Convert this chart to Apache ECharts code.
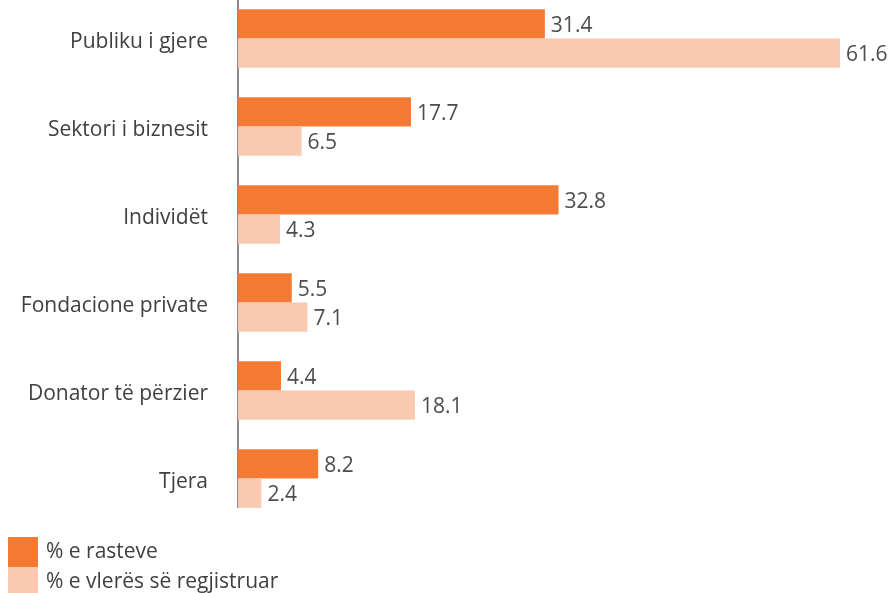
<!DOCTYPE html>
<html><head><meta charset="utf-8">
<script src="https://cdn.jsdelivr.net/npm/echarts@6/dist/echarts.min.js"></script>
<style>html,body{margin:0;padding:0;background:#fff}#c{width:892px;height:593px}</style>
</head><body><div id="c"></div>
<script>
const categories = ["Publiku i gjere", "Sektori i biznesit", "Individët", "Fondacione private", "Donator të përzier", "Tjera"];
const rasteve = [31.4, 17.7, 32.8, 5.5, 4.4, 8.2];
const vleres = [61.6, 6.5, 4.3, 7.1, 18.1, 2.4];
const seriesNames = ["% e rasteve", "% e vlerës së regjistruar"];

const FONT = "Open Sans";
const FS = 21;
const chart = echarts.init(document.getElementById('c'), null, {renderer: 'canvas'});
const lbl = {show: true, position: 'right', distance: 6, offset: [0, 2], color: '#4d4d4d', fontFamily: FONT, fontSize: FS, formatter: p => p.value.toFixed(1)};
const legendText = {color: '#404040', fontFamily: FONT, fontSize: FS, padding: [2,0,0,3]};
chart.setOption({
  animation: false,
  textStyle: {fontFamily: FONT},
  grid: {left: 238, right: 52, top: 38.5, height: 440, containLabel: false},
  xAxis: {type: 'value', min: 0, max: 61.6, show: false},
  yAxis: {type: 'category', data: categories, inverse: true, boundaryGap: false,
    axisLine: {show: false}, axisTick: {show: false}, splitLine: {show: false},
    axisLabel: {margin: 30, color: '#404040', fontFamily: FONT, fontSize: FS,
      formatter: v => '{a|' + v + '}', rich: {a: {fontFamily: FONT, fontSize: FS, color: '#404040', padding: [7, 0, 0, 0]}}}},
  legend: [
    {data: [seriesNames[0]], left: 8, top: 537, padding: 0, itemWidth: 30, itemHeight: 30, icon: 'rect', textStyle: legendText},
    {data: [seriesNames[1]], left: 8, top: 567, padding: 0, itemWidth: 30, itemHeight: 30, icon: 'rect', textStyle: legendText}
  ],
  graphic: [{type: 'line', shape: {x1: 238, y1: 0, x2: 238, y2: 508}, style: {stroke: '#666', lineWidth: 1.5}}],
  series: [
    {name: seriesNames[0], type: 'bar', data: rasteve, barGap: 0, barCategoryGap: '33.3%', clip: false, itemStyle: {color: '#F37A33'}, label: lbl},
    {name: seriesNames[1], type: 'bar', data: vleres, clip: false, itemStyle: {color: '#FAC9AF'}, label: lbl}
  ]
});
</script></body></html>
